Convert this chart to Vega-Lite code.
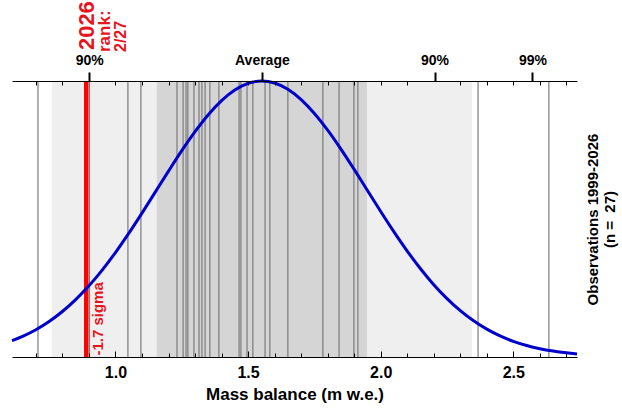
{
  "$schema": "https://vega.github.io/schema/vega-lite/v6.json",
  "width": 565,
  "height": 276,
  "autosize": "none",
  "padding": {"left": 12, "top": 81, "right": 45, "bottom": 52},
  "config": {"view": {"stroke": null}, "font": "Liberation Sans", "axis": {"grid": false}},
  "datasets": {
    "bands": [
      {"lo": 0.760, "hi": 2.344, "band": "2 sigma"},
      {"lo": 1.156, "hi": 1.948, "band": "1 sigma"}
    ],
    "obs": [
      {"v": 0.708}, {"v": 0.902}, {"v": 1.047}, {"v": 1.096}, {"v": 1.232}, {"v": 1.255},
      {"v": 1.266}, {"v": 1.273}, {"v": 1.296}, {"v": 1.315}, {"v": 1.326}, {"v": 1.338},
      {"v": 1.356}, {"v": 1.390}, {"v": 1.466}, {"v": 1.473}, {"v": 1.496}, {"v": 1.518},
      {"v": 1.564}, {"v": 1.582}, {"v": 1.650}, {"v": 1.782}, {"v": 1.843}, {"v": 1.899},
      {"v": 1.914}, {"v": 2.367}, {"v": 2.634}
    ],
    "curve": [
      {"x": 0.61, "y": 0.059}, {"x": 0.65, "y": 0.0747}, {"x": 0.70, "y": 0.0988}, {"x": 0.75, "y": 0.1286},
      {"x": 0.80, "y": 0.1648}, {"x": 0.85, "y": 0.2078}, {"x": 0.90, "y": 0.2578}, {"x": 0.95, "y": 0.3149},
      {"x": 1.00, "y": 0.3785}, {"x": 1.05, "y": 0.4477}, {"x": 1.10, "y": 0.5213}, {"x": 1.15, "y": 0.5974},
      {"x": 1.20, "y": 0.6736}, {"x": 1.25, "y": 0.7477}, {"x": 1.30, "y": 0.8167}, {"x": 1.35, "y": 0.8780},
      {"x": 1.40, "y": 0.9290}, {"x": 1.45, "y": 0.9674}, {"x": 1.50, "y": 0.9914}, {"x": 1.552, "y": 1.0},
      {"x": 1.60, "y": 0.9927}, {"x": 1.65, "y": 0.9698}, {"x": 1.70, "y": 0.9326}, {"x": 1.75, "y": 0.8825},
      {"x": 1.80, "y": 0.8219}, {"x": 1.85, "y": 0.7534}, {"x": 1.90, "y": 0.6796}, {"x": 1.95, "y": 0.6035},
      {"x": 2.00, "y": 0.5273}, {"x": 2.05, "y": 0.4535}, {"x": 2.10, "y": 0.3838}, {"x": 2.15, "y": 0.3197},
      {"x": 2.20, "y": 0.2621}, {"x": 2.25, "y": 0.2115}, {"x": 2.30, "y": 0.1679}, {"x": 2.35, "y": 0.1313},
      {"x": 2.40, "y": 0.1010}, {"x": 2.45, "y": 0.0764}, {"x": 2.50, "y": 0.0569}, {"x": 2.55, "y": 0.0418},
      {"x": 2.60, "y": 0.0301}, {"x": 2.65, "y": 0.0214}, {"x": 2.70, "y": 0.0150}, {"x": 2.74, "y": 0.0111}
    ]
  },
  "resolve": {"axis": {"x": "independent", "y": "independent"}},
  "layer": [
    {
      "data": {"name": "bands"},
      "mark": {"type": "rect"},
      "encoding": {
        "x": {
          "field": "lo", "type": "quantitative",
          "scale": {"domain": [0.61, 2.74], "nice": false, "zero": false},
          "axis": {
            "orient": "bottom", "values": [1, 1.5, 2, 2.5], "format": ".1f",
            "labelFontSize": 16, "labelFontWeight": "bold", "labelColor": "black", "labelPadding": 13,
            "tickSize": -6, "tickColor": "black", "domainColor": "black",
            "title": "Mass balance (m w.e.)", "titleFontSize": 17, "titleFontWeight": "bold",
            "titleColor": "black", "titlePadding": 6, "zindex": 1
          }
        },
        "x2": {"field": "hi"},
        "color": {
          "field": "band", "type": "nominal",
          "scale": {"domain": ["2 sigma", "1 sigma"], "range": ["#efefef", "#d5d5d5"]},
          "legend": null
        }
      }
    },
    {
      "data": {"name": "obs"},
      "mark": {"type": "rule", "color": "#7a7a7a", "strokeWidth": 1.2},
      "encoding": {
        "x": {
          "field": "v", "type": "quantitative",
          "scale": {"domain": [0.61, 2.74], "nice": false, "zero": false},
          "axis": {
            "orient": "bottom",
            "values": [0.7, 0.8, 0.9, 1.0, 1.1, 1.2, 1.3, 1.4, 1.5, 1.6, 1.7, 1.8, 1.9, 2.0, 2.1, 2.2, 2.3, 2.4, 2.5, 2.6, 2.7],
            "labels": false, "tickSize": -4, "tickColor": "black", "domain": false, "title": null, "zindex": 1
          }
        }
      }
    },
    {
      "data": {"values": [{}]},
      "mark": {"type": "rule", "color": "#ff0000", "strokeWidth": 4.5},
      "encoding": {
        "x": {
          "datum": 0.890, "type": "quantitative",
          "scale": {"domain": [0.61, 2.74], "nice": false, "zero": false},
          "axis": {
            "orient": "top", "values": [0.901, 1.552, 2.203, 2.572],
            "labelExpr": "datum.value < 1 ? '90%' : datum.value < 2 ? 'Average' : datum.value < 2.5 ? '90%' : '99%'",
            "tickSize": 9, "tickWidth": 2, "tickColor": "black",
            "labelFontSize": 14, "labelFontWeight": "bold", "labelColor": "black", "labelPadding": 5,
            "domainColor": "black", "title": null, "zindex": 1
          }
        }
      }
    },
    {
      "data": {"name": "curve"},
      "mark": {"type": "line", "color": "#0000cc", "strokeWidth": 3, "interpolate": "monotone"},
      "encoding": {
        "x": {
          "field": "x", "type": "quantitative",
          "scale": {"domain": [0.61, 2.74], "nice": false, "zero": false},
          "axis": {
            "orient": "top",
            "values": [0.7, 0.8, 1.0, 1.1, 1.2, 1.3, 1.4, 1.5, 1.6, 1.7, 1.8, 1.9, 2.0, 2.1, 2.3, 2.4, 2.5, 2.6, 2.7],
            "labels": false, "tickSize": -4, "tickColor": "black", "domain": false, "title": null, "zindex": 1
          }
        },
        "y": {
          "field": "y", "type": "quantitative",
          "scale": {"domain": [0, 1], "nice": false, "zero": true},
          "axis": {
            "orient": "right", "title": ["Observations 1999-2026", "(n = \u00a027)"],
            "titleAngle": 270, "titleFontSize": 15, "titleFontWeight": "bold", "titleColor": "black",
            "domain": false, "ticks": false, "labels": false, "grid": false, "titlePadding": 6
          }
        }
      }
    },
    {
      "data": {"values": [{}]},
      "mark": {"type": "text", "text": "-1.7 sigma", "angle": 270, "align": "left", "baseline": "top",
               "color": "#e8141c", "fontSize": 15, "fontWeight": "bold"},
      "encoding": {
        "x": {"datum": 0.907, "type": "quantitative", "scale": {"domain": [0.61, 2.74], "nice": false, "zero": false}, "axis": null},
        "y": {"datum": 0.005, "type": "quantitative", "scale": {"domain": [0, 1], "nice": false, "zero": true}, "axis": null}
      }
    },
    {
      "data": {"values": [{}]},
      "mark": {"type": "text", "text": "2026", "angle": 270, "align": "left", "baseline": "alphabetic",
               "color": "#e8141c", "fontSize": 22, "fontWeight": "bold"},
      "encoding": {
        "x": {"datum": 0.919, "type": "quantitative", "scale": {"domain": [0.61, 2.74], "nice": false, "zero": false}, "axis": null},
        "y": {"datum": 1.112, "type": "quantitative", "scale": {"domain": [0, 1], "nice": false, "zero": true}, "axis": null}
      }
    },
    {
      "data": {"values": [{}]},
      "mark": {"type": "text", "text": "rank:", "angle": 270, "align": "left", "baseline": "alphabetic",
               "color": "#e8141c", "fontSize": 17, "fontWeight": "bold"},
      "encoding": {
        "x": {"datum": 0.98, "type": "quantitative", "scale": {"domain": [0.61, 2.74], "nice": false, "zero": false}, "axis": null},
        "y": {"datum": 1.105, "type": "quantitative", "scale": {"domain": [0, 1], "nice": false, "zero": true}, "axis": null}
      }
    },
    {
      "data": {"values": [{}]},
      "mark": {"type": "text", "text": "2/27", "angle": 270, "align": "left", "baseline": "alphabetic",
               "color": "#e8141c", "fontSize": 16, "fontWeight": "bold"},
      "encoding": {
        "x": {"datum": 1.04, "type": "quantitative", "scale": {"domain": [0.61, 2.74], "nice": false, "zero": false}, "axis": null},
        "y": {"datum": 1.105, "type": "quantitative", "scale": {"domain": [0, 1], "nice": false, "zero": true}, "axis": null}
      }
    }
  ]
}
